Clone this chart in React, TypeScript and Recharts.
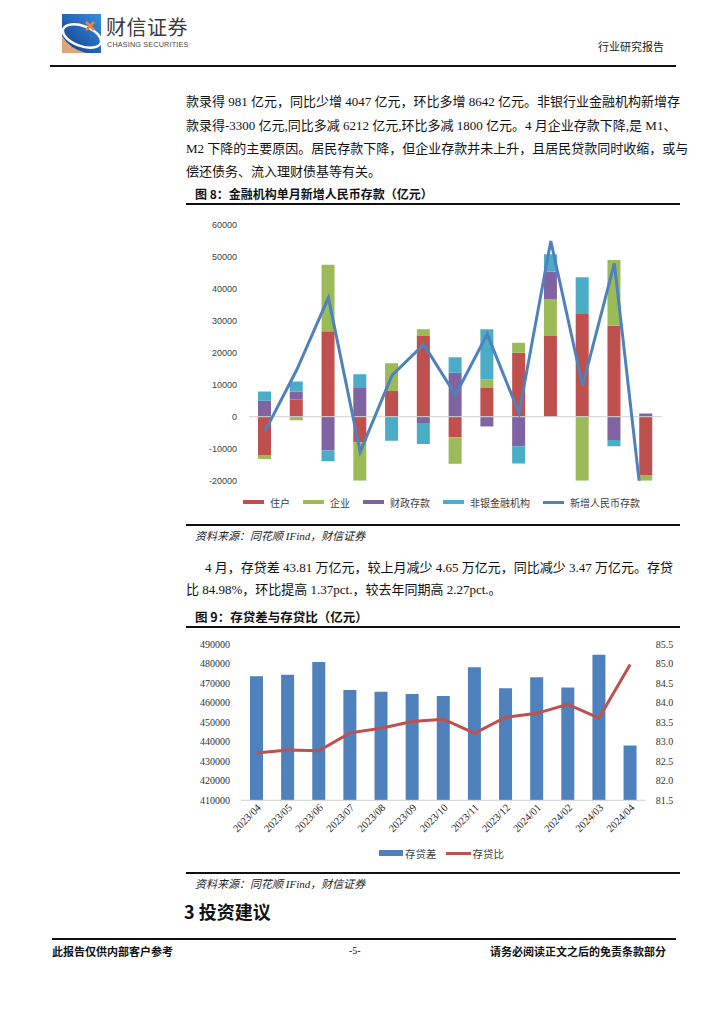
import React from "react";
import {
    ComposedChart,
    Bar,
    Line,
    XAxis,
    YAxis,
    ReferenceLine,
} from "recharts";

// ---- 图8 数据（亿元）
const months = [
    "2023/04", "2023/05", "2023/06", "2023/07", "2023/08", "2023/09", "2023/10",
    "2023/11", "2023/12", "2024/01", "2024/02", "2024/03", "2024/04",
];
const household = [-11950, 5400, 26700, -8000, 8000, 25200, -6400, 9000, 20000, 25200, 32100, 28400, -18200];
const enterprise = [-1300, -1100, 20800, -14600, 8700, 2100, -8300, 2700, 3100, 11600, -23900, 20600, -18600];
const fiscal = [5000, 2500, -10600, 9000, 0, -2000, 13750, -3100, -9200, 8500, 0, -7300, 1000];
const nonBank = [2900, 3100, -3300, 4300, -7500, -6500, 4800, 15600, -5400, 5500, 11500, -1900, -3300];
const newDeposits = [-4600, 14600, 37200, -11000, 12900, 22600, 6800, 25800, 1100, 54900, 9700, 47900, -39200];
const y8Ticks = [-20000, -10000, 0, 10000, 20000, 30000, 40000, 50000, 60000];

// ---- 图9 数据
const loanGap = [473600, 474400, 480900, 466600, 465700, 464500, 463500, 478200, 467400, 473100, 467900, 484600, 438100];
const ldRatio = [82.71, 82.79, 82.77, 83.23, 83.35, 83.52, 83.58, 83.22, 83.63, 83.73, 83.96, 83.61, 84.98];
const y9LeftTicks = [410000, 420000, 430000, 440000, 450000, 460000, 470000, 480000, 490000];
const y9RightTicks = [81.5, 82, 82.5, 83, 83.5, 84, 84.5, 85, 85.5];

const deposits = months.map((m, i) => ({
    month: m,
    household: household[i],
    enterprise: enterprise[i],
    fiscal: fiscal[i],
    nonBank: nonBank[i],
    total: newDeposits[i],
}));

const gapData = months.map((m, i) => ({
    month: m,
    gap: loanGap[i],
    ratio: ldRatio[i],
}));

const RED = "#C0504D";
const GREEN = "#9BBB59";
const PURPLE = "#8064A2";
const CYAN = "#4BACC6";
const BLUE = "#4F81BD";

const SERIF = '"Liberation Serif", "Noto Sans CJK SC", serif';
const SANS = '"Liberation Sans", "Noto Sans CJK SC", sans-serif';
const CJK = '"Noto Sans CJK SC", sans-serif';

// chart 8 plot geometry
const C8_H = 290;
const C8_MARGIN = { top: 14.7, right: 14, left: 0, bottom: 19.3 };
const C8_PLOT_H = C8_H - C8_MARGIN.top - C8_MARGIN.bottom;
const Y8_MIN = -20000;
const Y8_MAX = 60000;

const ZeroTick = (props: any) => {
    const { x, y, payload } = props;
    const zeroY = y - (C8_PLOT_H * (0 - Y8_MIN)) / (Y8_MAX - Y8_MIN);
    const ax = x + 2;
    const ay = zeroY + 11;
    return (
        <text
            x={ax}
            y={ay}
            textAnchor="end"
            transform={`rotate(-45 ${ax} ${ay})`}
            fontSize={9.5}
            fontFamily={SANS}
            fill="#222"
        >
            {payload.value}
        </text>
    );
};

const SlantTick = (props: any) => {
    const { x, y, payload } = props;
    const ax = x + 5;
    const ay = y + 8;
    return (
        <text
            x={ax}
            y={ay}
            textAnchor="end"
            transform={`rotate(-45 ${ax} ${ay})`}
            fontSize={10.5}
            fontFamily={SERIF}
            fill="#222"
        >
            {payload.value}
        </text>
    );
};

function Abs({
    x,
    y,
    children,
    style,
}: {
    x: number;
    y: number;
    children?: React.ReactNode;
    style?: React.CSSProperties;
}) {
    return (
        <div style={{ position: "absolute", left: x, top: y, whiteSpace: "nowrap", ...style }}>
            {children}
        </div>
    );
}

function TextLine({ y, text, justify = true, indent = 0 }: { y: number; text: string; justify?: boolean; indent?: number }) {
    return (
        <div
            style={{
                position: "absolute",
                left: 186 + indent,
                top: y - 10,
                width: 487 - indent,
                height: 20,
                lineHeight: "20px",
                fontSize: 13,
                fontFamily: SERIF,
                color: "#111",
                textAlign: justify ? "justify" : "left",
                textAlignLast: justify ? "justify" : "left",
                whiteSpace: "nowrap",
            }}
        >
            {text}
        </div>
    );
}

function Logo() {
    return (
        <svg width={39} height={39} style={{ position: "absolute", left: 62, top: 14 }}>
            <defs>
                <linearGradient id="lg" x1="1" y1="0" x2="0" y2="1">
                    <stop offset="0" stopColor="#3A8FDB" />
                    <stop offset="1" stopColor="#0F3C8E" />
                </linearGradient>
            </defs>
            <rect x={0} y={0} width={39} height={39} fill="url(#lg)" />
            <path d="M0 22 Q8 35 24 39 L0 39 Z" fill="#D9A77A" />
            <ellipse cx={20} cy={22} rx={20} ry={10} transform="rotate(20 20 22)" fill="none" stroke="#fff" strokeWidth={2.5} />
            <path d="M24 8 L32 16 M32 8 L24 16" stroke="#E8873A" strokeWidth={2.5} />
        </svg>
    );
}

function Legend8() {
    const items = [
        { name: "住户", color: RED, line: false },
        { name: "企业", color: GREEN, line: false },
        { name: "财政存款", color: PURPLE, line: false },
        { name: "非银金融机构", color: CYAN, line: false },
        { name: "新增人民币存款", color: BLUE, line: true },
    ];
    return (
        <div style={{ position: "absolute", left: 243, top: 495, display: "flex", alignItems: "center", height: 14 }}>
            {items.map((it) => (
                <div key={it.name} style={{ display: "flex", alignItems: "center", marginRight: 13 }}>
                    <div style={{ width: 21, height: it.line ? 3 : 4.5, background: it.color, marginRight: 6 }} />
                    <span style={{ fontSize: 10, fontFamily: CJK, color: "#404040" }}>{it.name}</span>
                </div>
            ))}
        </div>
    );
}

function Legend9() {
    return (
        <div style={{ position: "absolute", left: 379, top: 846, display: "flex", alignItems: "center", height: 14 }}>
            <div style={{ width: 24, height: 6, background: BLUE, marginRight: 2 }} />
            <span style={{ fontSize: 10.5, fontFamily: CJK, color: "#404040", marginRight: 9 }}>存贷差</span>
            <div style={{ width: 25, height: 3, background: RED, marginRight: 2 }} />
            <span style={{ fontSize: 10.5, fontFamily: CJK, color: "#404040" }}>存贷比</span>
        </div>
    );
}

export default function App() {
    return (
        <div style={{ position: "absolute", left: 0, top: 0, width: 724, height: 1024, background: "#fff", overflow: "hidden" }}>
            {/* header */}
            <Logo />
            <Abs x={106} y={16} style={{ fontSize: 20, fontFamily: CJK, color: "#3a3a3a", lineHeight: "22px", letterSpacing: 0.5 }}>
                财信证券
            </Abs>
            <Abs x={107} y={41} style={{ fontSize: 7.2, fontFamily: SANS, color: "#444", lineHeight: "8px", letterSpacing: 0.2 }}>
                CHASING SECURITIES
            </Abs>
            <Abs x={598} y={40} style={{ fontSize: 11, fontFamily: SERIF, color: "#222", lineHeight: "14px" }}>
                行业研究报告
            </Abs>
            <div style={{ position: "absolute", left: 50, top: 65, width: 626, height: 1.5, background: "#111" }} />

            {/* paragraph 1 */}
            <TextLine y={102} text="款录得 981 亿元，同比少增 4047 亿元，环比多增 8642 亿元。非银行业金融机构新增存" />
            <TextLine y={126} text="款录得-3300 亿元,同比多减 6212 亿元,环比多减 1800 亿元。4 月企业存款下降,是 M1、" />
            <TextLine y={149} text="M2 下降的主要原因。居民存款下降，但企业存款并未上升，且居民贷款同时收缩，或与" />
            <TextLine y={172} text="偿还债务、流入理财债基等有关。" justify={false} />

            {/* figure 8 */}
            <Abs x={195} y={186} style={{ fontSize: 12, fontFamily: CJK, fontWeight: 700, color: "#111", lineHeight: "16px" }}>
                图 8：金融机构单月新增人民币存款（亿元）
            </Abs>
            <div style={{ position: "absolute", left: 186, top: 203, width: 494, height: 1.5, background: "#111" }} />
            <div style={{ position: "absolute", left: 186, top: 210 }}>
                <ComposedChart
                    width={490}
                    height={C8_H}
                    data={deposits}
                    margin={C8_MARGIN}
                    stackOffset="sign"
                >
                    <XAxis
                        dataKey="month"
                        height={0}
                        axisLine={false}
                        tickLine={false}
                        tickSize={0}
                        tickMargin={0}
                        interval={0}
                        tick={<ZeroTick />}
                    />
                    <YAxis
                        width={63}
                        domain={[Y8_MIN, Y8_MAX]}
                        ticks={y8Ticks}
                        allowDataOverflow
                        axisLine={false}
                        tickLine={false}
                        tickSize={0}
                        tickMargin={12}
                        tick={{ fontSize: 9, fontFamily: SANS, fill: "#404040" }}
                    />
                    <ReferenceLine y={0} stroke="#d0d0d0" strokeWidth={1} />
                    <Bar dataKey="household" stackId="a" fill={RED} barSize={13} isAnimationActive={false} />
                    <Bar dataKey="enterprise" stackId="a" fill={GREEN} barSize={13} isAnimationActive={false} />
                    <Bar dataKey="fiscal" stackId="a" fill={PURPLE} barSize={13} isAnimationActive={false} />
                    <Bar dataKey="nonBank" stackId="a" fill={CYAN} barSize={13} isAnimationActive={false} />
                    <Line
                        dataKey="total"
                        type="linear"
                        stroke={BLUE}
                        strokeWidth={3}
                        dot={false}
                        isAnimationActive={false}
                    />
                </ComposedChart>
            </div>
            <Legend8 />
            <div style={{ position: "absolute", left: 186, top: 524, width: 494, height: 1.5, background: "#111" }} />
            <Abs x={195} y={529} style={{ fontSize: 11, fontFamily: SERIF, fontStyle: "italic", color: "#222", lineHeight: "14px" }}>
                资料来源：同花顺 IFind，财信证券
            </Abs>

            {/* paragraph 2 */}
            <TextLine y={568} indent={19} text="4 月，存贷差 43.81 万亿元，较上月减少 4.65 万亿元，同比减少 3.47 万亿元。存贷" />
            <TextLine y={590} text="比 84.98%，环比提高 1.37pct.，较去年同期高 2.27pct.。" justify={false} />

            {/* figure 9 */}
            <Abs x={195} y={609} style={{ fontSize: 12.5, fontFamily: CJK, fontWeight: 700, color: "#111", lineHeight: "16px" }}>
                图 9：存贷差与存贷比（亿元）
            </Abs>
            <div style={{ position: "absolute", left: 186, top: 626, width: 494, height: 1.5, background: "#111" }} />
            <div style={{ position: "absolute", left: 186, top: 630 }}>
                <ComposedChart
                    width={490}
                    height={230}
                    data={gapData}
                    margin={{ top: 14.3, right: 0, left: 0, bottom: 19.7 }}
                >
                    <XAxis
                        dataKey="month"
                        height={40}
                        interval={0}
                        axisLine={{ stroke: "#d0d0d0" }}
                        tickLine={false}
                        tickSize={0}
                        tickMargin={0}
                        tick={<SlantTick />}
                    />
                    <YAxis
                        yAxisId="left"
                        width={55}
                        domain={[410000, 490000]}
                        ticks={y9LeftTicks}
                        allowDataOverflow
                        axisLine={false}
                        tickLine={false}
                        tickSize={0}
                        tickMargin={11}
                        tick={{ fontSize: 10, fontFamily: SERIF, fill: "#333" }}
                    />
                    <YAxis
                        yAxisId="right"
                        orientation="right"
                        width={30.3}
                        domain={[81.5, 85.5]}
                        ticks={y9RightTicks}
                        allowDataOverflow
                        axisLine={false}
                        tickLine={false}
                        tickSize={0}
                        tickMargin={10}
                        tickFormatter={(v: number) => v.toFixed(1)}
                        tick={{ fontSize: 10, fontFamily: SERIF, fill: "#333" }}
                    />
                    <Bar yAxisId="left" dataKey="gap" fill={BLUE} barSize={13} isAnimationActive={false} />
                    <Line
                        yAxisId="right"
                        dataKey="ratio"
                        type="linear"
                        stroke={RED}
                        strokeWidth={3}
                        dot={false}
                        isAnimationActive={false}
                    />
                </ComposedChart>
            </div>
            <Legend9 />
            <div style={{ position: "absolute", left: 186, top: 872, width: 494, height: 1.5, background: "#111" }} />
            <Abs x={195} y={877} style={{ fontSize: 11, fontFamily: SERIF, fontStyle: "italic", color: "#222", lineHeight: "14px" }}>
                资料来源：同花顺 IFind，财信证券
            </Abs>

            {/* section heading */}
            <Abs x={184} y={900} style={{ fontSize: 18, fontFamily: CJK, fontWeight: 700, color: "#111", lineHeight: "22px" }}>
                3 投资建议
            </Abs>

            {/* footer */}
            <div style={{ position: "absolute", left: 52, top: 938, width: 624, height: 1.5, background: "#111" }} />
            <Abs x={52} y={944} style={{ fontSize: 11, fontFamily: CJK, fontWeight: 700, color: "#111", lineHeight: "14px" }}>
                此报告仅供内部客户参考
            </Abs>
            <Abs x={349} y={944} style={{ fontSize: 10, fontFamily: SERIF, color: "#111", lineHeight: "14px" }}>
                -5-
            </Abs>
            <Abs x={490} y={944} style={{ fontSize: 11, fontFamily: CJK, fontWeight: 700, color: "#111", lineHeight: "14px" }}>
                请务必阅读正文之后的免责条款部分
            </Abs>
        </div>
    );
}
